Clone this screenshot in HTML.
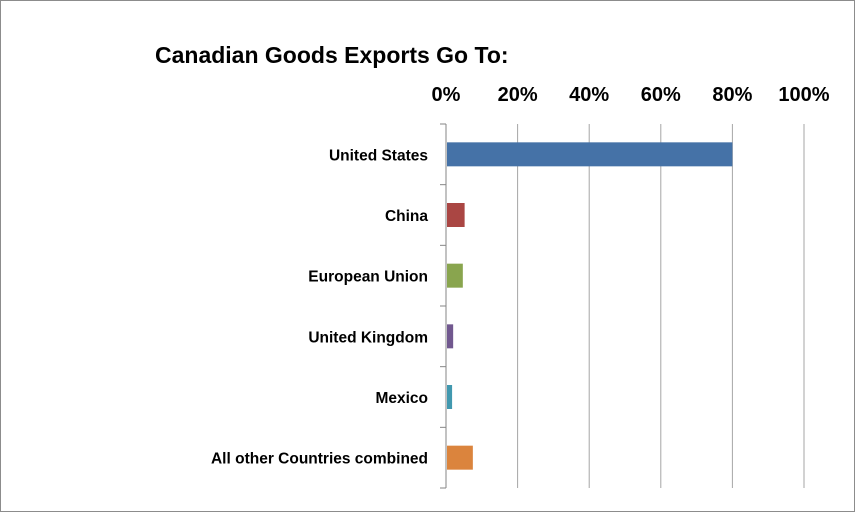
<!DOCTYPE html>
<html><head><meta charset="utf-8"><style>
html,body{margin:0;padding:0;background:#fff}
svg{display:block}
text{font-family:"Liberation Sans",sans-serif;font-weight:bold;fill:#000}
</style></head><body>
<svg width="855" height="512" xmlns="http://www.w3.org/2000/svg">
<rect x="0.5" y="0.5" width="854" height="511" fill="#fff" stroke="#8c8c8c"/>
<text x="155" y="63" font-size="23">Canadian Goods Exports Go To:</text>
<g id="grid"></g><g id="bars"></g><g id="labels"></g>
</svg>
<script>
const categories=["United States","China","European Union ","United Kingdom","Mexico","All other Countries combined"];
const values=[80,5.2,4.7,2,1.7,7.5];
const colors=["#4572a7","#aa4643","#89a54e","#71588f","#4198af","#db843d"];
const ticks=[0,20,40,60,80,100];
const tickLabels=["0%","20%","40%","60%","80%","100%"];
const X0=446,X1=804,Y0=124,Y1=488;
const ns="http://www.w3.org/2000/svg";
function x(v){return X0+(v/100)*(X1-X0);}
const band=(Y1-Y0)/categories.length;
function yb(i){return Y0+band*i;}
function mk(tag,attrs,parent){const e=document.createElementNS(ns,tag);for(const k in attrs)e.setAttribute(k,attrs[k]);document.getElementById(parent).appendChild(e);return e;}
ticks.forEach((t,i)=>{
 const g=mk("line",{x1:x(t),x2:x(t),y1:Y0,y2:Y1,stroke:i===0?"#868686":"#a6a6a6","stroke-width":1},"grid");
 
 
 const tl=mk("text",{x:x(t),y:101,"font-size":20,"text-anchor":"middle"},"labels");
 tl.textContent=tickLabels[i];
 
 
});
for(let i=0;i<=categories.length;i++){
 const tk=mk("line",{x1:X0-6,x2:X0,y1:yb(i),y2:yb(i),stroke:"#868686"},"grid");
 
 
}
categories.forEach((c,i)=>{
 const h=24, cy=yb(i)+band/2;
 const b=mk("rect",{x:X0+1,y:cy-h/2,width:Math.max(0,x(values[i])-X0-1),height:h,fill:colors[i]},"bars");
 
 
 const l=mk("text",{x:428,y:cy+6,"font-size":15.5,"text-anchor":"end"},"labels");
 l.textContent=c;
 
 
});
</script>
</body></html>
